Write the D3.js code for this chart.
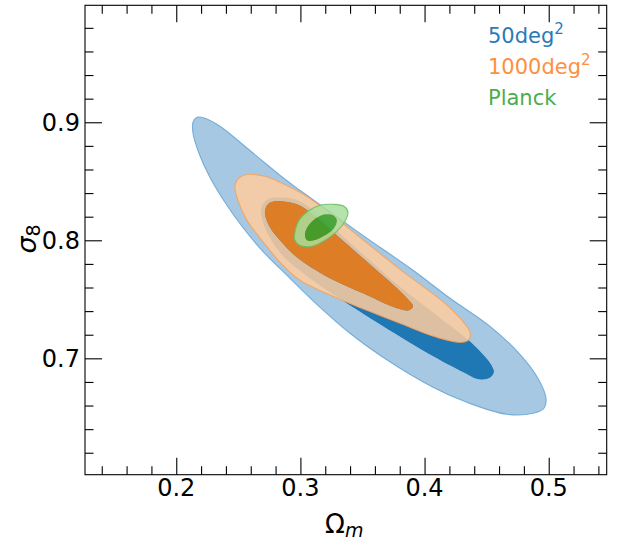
<!DOCTYPE html>
<html><head><meta charset="utf-8">
<script src="https://cdn.jsdelivr.net/npm/d3@7"></script>
<style>body{margin:0;background:#fff}svg{display:block}</style>
</head><body>
<svg id="c" width="624" height="541"></svg>
<script>
// ---- data ----
const xDomain = [0.1265, 0.5467];
const yDomain = [0.6014, 0.9991];
const xMajor = [0.2, 0.3, 0.4, 0.5];
const xMinor = [0.14,0.16,0.18,0.22,0.24,0.26,0.28,0.32,0.34,0.36,0.38,0.42,0.44,0.46,0.48,0.52,0.54];
const yMajor = [0.7, 0.8, 0.9];
const yMinor = [0.62,0.64,0.66,0.68,0.72,0.74,0.76,0.78,0.82,0.84,0.86,0.88,0.92,0.94,0.96,0.98];
const xTickLabels = ["0.2","0.3","0.4","0.5"];
const yTickLabels = ["0.7","0.8","0.9"];
const seriesNames = ["50deg", "1000deg", "Planck"];

// contour boundaries (Omega_m, sigma_8): 95% (outer) and 68% (inner)
const blue95 = [[0.2135,0.9000],[0.2167,0.9042],[0.2231,0.9034],[0.2352,0.8966],[0.2610,0.8746],[0.2876,0.8517],[0.2996,0.8424],[0.3480,0.8059],[0.3907,0.7746],[0.4205,0.7509],[0.4527,0.7271],[0.4768,0.7034],[0.4913,0.6831],[0.4978,0.6661],[0.4962,0.6577],[0.4873,0.6534],[0.4664,0.6526],[0.4342,0.6627],[0.4068,0.6755],[0.3665,0.7009],[0.3399,0.7212],[0.3141,0.7449],[0.2916,0.7678],[0.2690,0.7915],[0.2529,0.8119],[0.2392,0.8322],[0.2271,0.8534],[0.2183,0.8737],[0.2135,0.8907]];
const blue68 = [[0.2682,0.8254],[0.2706,0.8322],[0.2755,0.8356],[0.2851,0.8364],[0.2980,0.8339],[0.3125,0.8237],[0.3246,0.8127],[0.3504,0.7881],[0.3641,0.7754],[0.3778,0.7627],[0.3963,0.7475],[0.4245,0.7246],[0.4366,0.7144],[0.4470,0.7034],[0.4535,0.6949],[0.4559,0.6882],[0.4519,0.6831],[0.4430,0.6822],[0.4342,0.6865],[0.4068,0.7017],[0.3665,0.7271],[0.3262,0.7542],[0.3053,0.7695],[0.2876,0.7847],[0.2755,0.8017],[0.2698,0.8153]];
const orange95 = [[0.2473,0.8466],[0.2513,0.8534],[0.2594,0.8559],[0.2714,0.8542],[0.2835,0.8491],[0.3037,0.8381],[0.3238,0.8229],[0.3439,0.8059],[0.3802,0.7754],[0.4164,0.7466],[0.4301,0.7322],[0.4366,0.7221],[0.4358,0.7161],[0.4301,0.7136],[0.4100,0.7178],[0.3802,0.7297],[0.3536,0.7407],[0.3262,0.7526],[0.2996,0.7661],[0.2835,0.7814],[0.2690,0.8000],[0.2569,0.8169],[0.2497,0.8339]];
const orange68 = [[0.2714,0.8237],[0.2739,0.8305],[0.2795,0.8330],[0.2972,0.8305],[0.3117,0.8203],[0.3238,0.8093],[0.3504,0.7847],[0.3641,0.7720],[0.3778,0.7593],[0.3866,0.7500],[0.3907,0.7441],[0.3874,0.7407],[0.3778,0.7424],[0.3504,0.7551],[0.3238,0.7678],[0.2972,0.7856],[0.2835,0.8000],[0.2755,0.8110]];
const planck95 = [[0.2956,0.8068],[0.2988,0.8169],[0.3061,0.8246],[0.3157,0.8297],[0.3262,0.8305],[0.3351,0.8288],[0.3383,0.8237],[0.3359,0.8161],[0.3294,0.8076],[0.3198,0.8000],[0.3093,0.7949],[0.2996,0.7958],[0.2956,0.8000]];
const planck68 = [[0.3037,0.8051],[0.3061,0.8119],[0.3125,0.8186],[0.3198,0.8220],[0.3262,0.8212],[0.3294,0.8169],[0.3270,0.8102],[0.3198,0.8042],[0.3109,0.8000],[0.3053,0.8000]];

// ---- drawing ----
const svg = d3.select("#c");
const L = 85, R = 606.7, T = 5.3, B = 474.7;
const x = d3.scaleLinear().domain(xDomain).range([L, R]);
const y = d3.scaleLinear().domain(yDomain).range([B, T]);
const FONT = "DejaVu Sans, sans-serif";

svg.append("clipPath").attr("id","clip").append("rect")
  .attr("x",L).attr("y",T).attr("width",R-L).attr("height",B-T);
const plot = svg.append("g").attr("clip-path","url(#clip)");
const line = d3.line().x(d=>x(d[0])).y(d=>y(d[1])).curve(d3.curveCatmullRomClosed.alpha(0.5));

// filled bands: outer ring (95% minus 68%) and inner core (68%)
const sets = [
  {outer: blue95,   inner: blue68,   ring: "#a6c8e2", core: "#1f77b4", op: 1,    edge: "#6ba7d6"},
  {outer: orange95, inner: orange68, ring: "rgb(255,204,158)", core: "#ff7f0e", op: 0.85, edge: "#f5a35c"},
  {outer: planck95, inner: planck68, ring: "rgb(168,222,156)", core: "#2ca02c", op: 0.85, edge: "#6cc063"}
];
sets.forEach(s => {
  plot.append("path").attr("d", line(s.outer) + line(s.inner))
    .attr("fill-rule","evenodd").attr("fill", s.ring).attr("fill-opacity", s.op);
  plot.append("path").attr("d", line(s.inner))
    .attr("fill", s.core).attr("fill-opacity", s.op);
  plot.append("path").attr("d", line(s.outer))
    .attr("fill", "none").attr("stroke", s.edge).attr("stroke-width", 1.1).attr("stroke-opacity", 0.9);
});

// ticks (inward, all four sides)
function ticks(axisFn, vals, size, tr) {
  const g = svg.append("g").attr("transform", tr)
    .call(axisFn.tickValues(vals).tickSize(-size).tickFormat(""));
  g.select(".domain").remove();
  g.selectAll("line").attr("stroke","#000").attr("stroke-width",1.1);
}
ticks(d3.axisBottom(x), xMajor, 17, `translate(0,${B})`);
ticks(d3.axisBottom(x), xMinor, 8.5, `translate(0,${B})`);
ticks(d3.axisTop(x), xMajor, 17, `translate(0,${T})`);
ticks(d3.axisTop(x), xMinor, 8.5, `translate(0,${T})`);
ticks(d3.axisLeft(y), yMajor, 17, `translate(${L},0)`);
ticks(d3.axisLeft(y), yMinor, 8.5, `translate(${L},0)`);
ticks(d3.axisRight(y), yMajor, 17, `translate(${R},0)`);
ticks(d3.axisRight(y), yMinor, 8.5, `translate(${R},0)`);

svg.append("rect").attr("x",L).attr("y",T).attr("width",R-L).attr("height",B-T)
  .attr("fill","none").attr("stroke","#000").attr("stroke-width",1.1);

// tick labels
svg.append("g").selectAll("text").data(xMajor).join("text")
  .attr("x", d=>x(d)).attr("y", 496).attr("text-anchor","middle")
  .attr("font-family",FONT).attr("font-size",24).attr("fill","#000")
  .text((d,i)=>xTickLabels[i]);
svg.append("g").selectAll("text").data(yMajor).join("text")
  .attr("x", 80).attr("y", d=>y(d)+8.7).attr("text-anchor","end")
  .attr("font-family",FONT).attr("font-size",24).attr("fill","#000")
  .text((d,i)=>yTickLabels[i]);

// axis labels
const xl = svg.append("text").attr("x",325).attr("y",533)
  .attr("font-family",FONT).attr("font-size",26).attr("fill","#000");
xl.append("tspan").text("Ω");
xl.append("tspan").attr("font-size",19).attr("font-style","italic").attr("dy",4).text("m");

const yl = svg.append("text").attr("transform","translate(36,239) rotate(-90)")
  .attr("text-anchor","middle")
  .attr("font-family",FONT).attr("font-size",27).attr("fill","#000");
yl.append("tspan").attr("font-style","italic").text("σ");
yl.append("tspan").attr("font-size",19).attr("dy",4).text("8");

// legend
const legColors = ["#2a7ab6", "#fd9040", "#4cad4c"];
const legSup = ["2", "2", ""];
seriesNames.forEach((n,i) => {
  const t = svg.append("text").attr("x",488).attr("y",43 + i*31)
    .attr("font-family",FONT).attr("font-size",21).attr("fill",legColors[i]);
  t.append("tspan").text(n);
  if (legSup[i]) t.append("tspan").attr("font-size",15).attr("dy",-9).text(legSup[i]);
});
</script>
</body></html>
